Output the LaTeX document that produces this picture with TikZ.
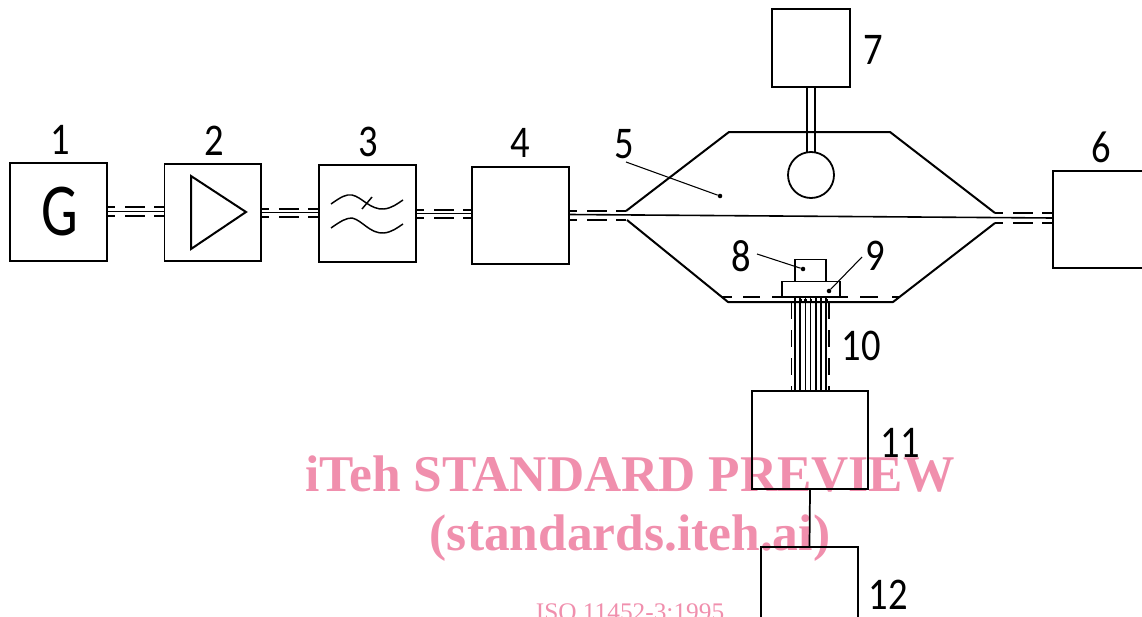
\documentclass[tikz,border=0pt]{standalone}
\usepackage{fontspec}
\setmainfont{Liberation Serif}
\newfontfamily\isofont[FakeStretch=0.85]{Carlito}
\newfontfamily\gfont[FakeStretch=0.78]{Carlito}
\usetikzlibrary{calc}
\definecolor{wm}{HTML}{F08FAD}
\tikzset{
  x=0.75pt,y=-0.75pt,
  unitbox/.style={draw,line width=1.35pt,inner sep=0pt,outer sep=0pt,fill=none},
  wire/.style={line width=1.1pt},
  thick wire/.style={line width=1.5pt},
  solid core/.style={line width=1.2pt},
  cable dash/.style={line width=1.5pt,dash pattern=on 6pt off 7.5pt on 15pt off 6.75pt on 7.5pt},
  thin dash/.style={cable dash,line width=0.8pt},
  leader/.style={line width=0.8pt},
  leader dot/.style={circle,fill=black,inner sep=0pt,minimum size=3.4pt},
  num/.style={font=\isofont\fontsize{34}{34}\selectfont,inner sep=0pt},
  wmtext/.style={text=wm,inner sep=0pt,anchor=base},
}
\begin{document}
\begin{tikzpicture}
\useasboundingbox (0,0) rectangle (1142,617);
\clip (0,0) rectangle (1142,617);
% watermark
\node[wmtext] (wa) at (630,491) {\fontsize{38.6}{39}\selectfont\bfseries iTeh STANDARD PREVIEW};
\node[wmtext] (wb) at (630,550) {\fontsize{38.6}{39}\selectfont\bfseries (standards.iteh.ai)};
\node[wmtext] (wc) at (630,620) {\fontsize{19}{19}\selectfont ISO 11452-3:1995};
% boxes
\node[unitbox,minimum width=72.75pt,minimum height=73.5pt] (b1) at (58.5,212) {};
\node[unitbox,minimum width=72.4pt,minimum height=72.75pt] (b2) at (212.7,212.5) {};
\node[unitbox,minimum width=72.75pt,minimum height=72.75pt] (b3) at (367.5,213.5) {};
\node[unitbox,minimum width=72.75pt,minimum height=72.75pt] (b4) at (520.5,215.5) {};
\node[unitbox,minimum width=90pt,minimum height=72.75pt] (b6) at (1113,219.5) {};
\node[unitbox,minimum width=58.5pt,minimum height=58.5pt] (b7) at (811,48) {};
\node[unitbox,minimum width=87pt,minimum height=73.5pt] (b11) at (810,440) {};
\node[unitbox,minimum width=72.75pt,minimum height=90pt] (b12) at (809.5,607) {};
% cables between boxes
\foreach \a/\b/\ya/\yb/\yc in {b1/b2/207/211.5/216, b2/b3/208.5/212.5/217, b3/b4/209.5/213.5/218}{
  \draw[cable dash] (\a.east |- 0,\ya) -- (\b.west |- 0,\ya);
  \draw[cable dash] (\a.east |- 0,\yc) -- (\b.west |- 0,\yc);
  \draw[solid core] (\a.east |- 0,\yb) -- (\b.west |- 0,\yb);
}
% G
\node[inner sep=0pt,font=\gfont\fontsize{56}{56}\selectfont] (g) at (60,212) {G};
% amplifier
\draw[thick wire,line join=miter] (191,176) -- (246,212) -- (191,249) -- cycle;
% filter
\draw[wire] (331,204) .. controls (341,197) and (346,194) .. (352,195) .. controls (362,197) and (370,210) .. (384,209) .. controls (392,208) and (397,204) .. (403,200);
\draw[wire] (331,228) .. controls (341,221) and (346,218) .. (352,218) .. controls (362,220) and (370,234) .. (384,233) .. controls (392,232) and (397,228) .. (403,224);
\draw[wire] (372,197) -- (362,209);
% housing
\coordinate (hul) at (626,211);
\coordinate (htl) at (729,132);
\coordinate (htr) at (890,132);
\coordinate (hur) at (995,213);
\coordinate (hlr) at (995,223);
\coordinate (hbr) at (893,302);
\coordinate (hbl) at (728,302);
\coordinate (hll) at (627,220);
\draw[thick wire,line join=round] (hul) -- (htl) -- (htr) -- (hur);
\draw[thick wire,line join=round] (hll) -- (hbl) -- (hbr) -- (hlr);
% core through the housing
\draw[solid core] (b4.east |- 0,214.5) -- (b6.west |- 0,218);
% shield stubs left and right
\draw[thin dash] (b4.east |- 0,211) -- (hul);
\draw[cable dash] (b4.east |- 0,220) -- (hll);
\draw[cable dash] (hur) -- (b6.west |- 0,213);
\draw[cable dash] (hlr) -- (b6.west |- 0,223);
% bottom shield
\foreach \p/\q in {722/732,743/760,860/878,892/900}{
  \draw[line width=1.5pt] (\p,297) -- (\q,297);
}
% mount plate, sensor
\node[unitbox,line width=1.2pt,minimum width=43.5pt,minimum height=11.5pt] (plate) at (811,289) {};
\node[unitbox,line width=1.2pt,minimum width=23.25pt,minimum height=16.5pt] (sensor) at (810.5,270.5) {};
\draw[line width=1.5pt] (772,297) -- (848,297);
% wires 10
\foreach \x in {795,800.2,805.4,810.6,815.8,821,826.2}{
  \draw[line width=1.1pt] (\x,298) -- (\x,0 |- b11.north);
}
\draw[line width=2.4pt,dash pattern=on 1.8pt off 2.1pt] (794,300.5) -- (828,300.5);
\draw[line width=1.3pt,dash pattern=on 13pt off 8pt] (791.5,302) -- (791.5,0 |- b11.north);
\draw[line width=1.3pt,dash pattern=on 13pt off 8pt] (829,302) -- (829,0 |- b11.north);
% element 7 stem, sphere
\node[draw,circle,line width=1.35pt,minimum size=34.5pt,inner sep=0pt] (sph) at (811,175) {};
\draw[wire,line width=1.3pt] ($(b7.south)+(-4.2,0)$) -- ($(sph.north)+(-4.2,1)$);
\draw[wire,line width=1.3pt] ($(b7.south)+(4.2,0)$) -- ($(sph.north)+(4.2,1)$);
% link 11-12
\draw[wire,line width=1.3pt] (b11.south) -- (b12.north);
% leaders
\node[leader dot] (d5) at (720,196) {};
\node[leader dot] (d8) at (803,269) {};
\node[leader dot] (d9) at (829,291) {};
\coordinate (l5) at (626,162);
\coordinate (l8) at (757,254);
\coordinate (l9) at (862,257);
\draw[leader] (l5) -- (d5);
\draw[leader] (l8) -- (d8);
\draw[leader] (l9) -- (d9);
% numbers
\node[num] (n1) at (60,140) {1};
\node[num] (n2) at (214,141) {2};
\node[num] (n3) at (368,142) {3};
\node[num] (n4) at (520,143) {4};
\node[num] (n5) at (624,144) {5};
\node[num] (n6) at (1101,147) {6};
\node[num] (n7) at (873,50) {7};
\node[num] (n8) at (741,256) {8};
\node[num] (n9) at (875,256) {9};
\node[num] (n10) at (861,346) {10};
\node[num] (n11) at (900,443) {11};
\node[num] (n12) at (888,595) {12};
\end{tikzpicture}
\end{document}
